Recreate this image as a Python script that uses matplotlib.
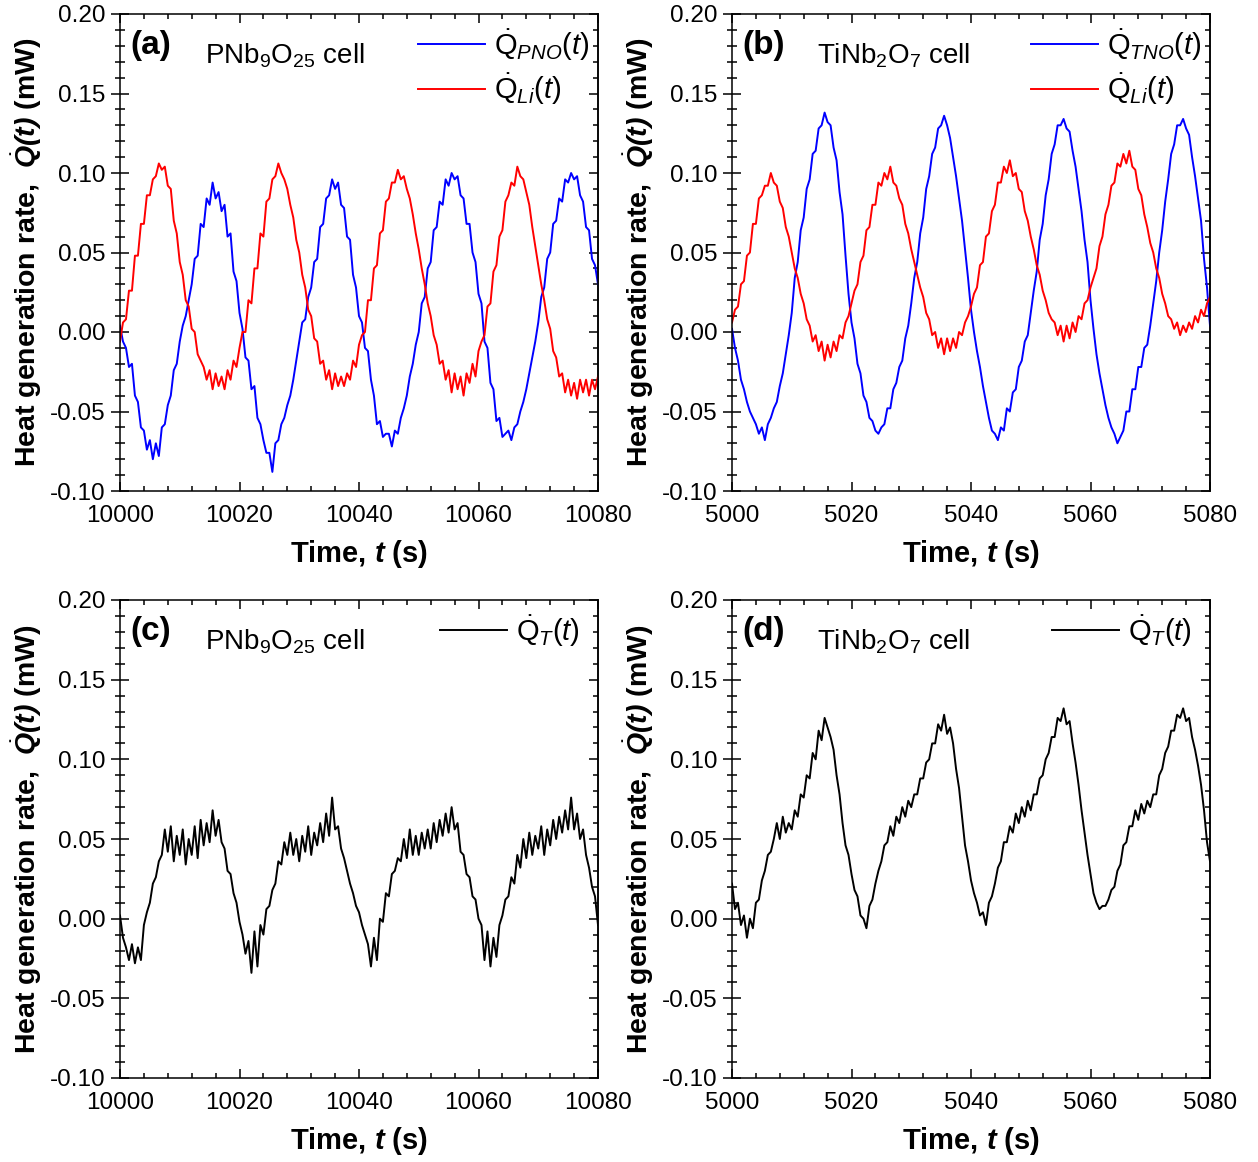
import numpy as np
import matplotlib

matplotlib.use("Agg")
import matplotlib.pyplot as plt
from matplotlib.ticker import MultipleLocator, FormatStrFormatter

t_pno = np.linspace(10000, 10080, 161)
t_tno = np.linspace(5000, 5080, 161)

q_pno = [
    0.004, -0.006, -0.010, -0.022, -0.020, -0.040, -0.044, -0.060, -0.062, -0.074,
    -0.068, -0.080, -0.070, -0.078, -0.060, -0.058, -0.046, -0.040, -0.024, -0.020,
    -0.006, 0.004, 0.010, 0.020, 0.030, 0.046, 0.048, 0.068, 0.066, 0.084,
    0.080, 0.094, 0.084, 0.088, 0.076, 0.080, 0.060, 0.062, 0.038, 0.032,
    0.012, 0.002, -0.016, -0.018, -0.036, -0.034, -0.054, -0.058, -0.068, -0.076,
    -0.076, -0.088, -0.070, -0.068, -0.058, -0.054, -0.046, -0.040, -0.030, -0.018,
    -0.006, 0.006, 0.008, 0.022, 0.028, 0.044, 0.046, 0.066, 0.068, 0.084,
    0.086, 0.096, 0.090, 0.094, 0.080, 0.078, 0.060, 0.058, 0.036, 0.028,
    0.010, 0.006, -0.010, -0.012, -0.030, -0.040, -0.058, -0.056, -0.066, -0.064,
    -0.064, -0.072, -0.062, -0.064, -0.054, -0.048, -0.040, -0.028, -0.020, -0.008,
    0.000, 0.018, 0.022, 0.040, 0.044, 0.064, 0.066, 0.082, 0.080, 0.096,
    0.092, 0.100, 0.096, 0.098, 0.086, 0.084, 0.068, 0.068, 0.050, 0.044,
    0.024, 0.018, -0.006, -0.010, -0.032, -0.036, -0.056, -0.054, -0.066, -0.064,
    -0.062, -0.068, -0.060, -0.058, -0.050, -0.044, -0.036, -0.026, -0.016, -0.006,
    0.006, 0.022, 0.028, 0.046, 0.050, 0.068, 0.070, 0.084, 0.082, 0.096,
    0.094, 0.100, 0.096, 0.098, 0.086, 0.082, 0.066, 0.064, 0.046, 0.042,
    0.030,
]
q_li_pno = [
    -0.006, 0.006, 0.008, 0.026, 0.026, 0.048, 0.048, 0.068, 0.068, 0.086,
    0.086, 0.096, 0.098, 0.106, 0.102, 0.104, 0.092, 0.090, 0.070, 0.062,
    0.044, 0.036, 0.020, 0.016, 0.002, 0.000, -0.014, -0.018, -0.022, -0.030,
    -0.024, -0.036, -0.026, -0.034, -0.028, -0.036, -0.024, -0.030, -0.018, -0.022,
    -0.010, 0.000, 0.000, 0.020, 0.018, 0.040, 0.040, 0.062, 0.060, 0.082,
    0.084, 0.096, 0.098, 0.106, 0.100, 0.096, 0.090, 0.080, 0.072, 0.058,
    0.050, 0.036, 0.028, 0.014, 0.010, -0.004, -0.006, -0.020, -0.018, -0.030,
    -0.024, -0.036, -0.026, -0.034, -0.028, -0.034, -0.026, -0.030, -0.018, -0.022,
    -0.008, -0.002, 0.000, 0.020, 0.020, 0.040, 0.042, 0.062, 0.064, 0.082,
    0.084, 0.094, 0.094, 0.102, 0.096, 0.098, 0.090, 0.084, 0.074, 0.062,
    0.052, 0.040, 0.030, 0.018, 0.010, -0.002, -0.008, -0.020, -0.018, -0.030,
    -0.024, -0.038, -0.026, -0.036, -0.028, -0.040, -0.026, -0.032, -0.020, -0.028,
    -0.012, -0.006, -0.002, 0.016, 0.018, 0.038, 0.042, 0.060, 0.064, 0.082,
    0.086, 0.094, 0.092, 0.104, 0.098, 0.096, 0.088, 0.080, 0.066, 0.054,
    0.042, 0.030, 0.020, 0.008, 0.002, -0.012, -0.016, -0.028, -0.026, -0.038,
    -0.030, -0.040, -0.032, -0.042, -0.030, -0.038, -0.030, -0.040, -0.030, -0.036,
    -0.028,
]
q_tno = [
    0.002, -0.010, -0.018, -0.030, -0.036, -0.044, -0.050, -0.054, -0.058, -0.064,
    -0.060, -0.068, -0.058, -0.054, -0.048, -0.044, -0.034, -0.026, -0.014, -0.002,
    0.012, 0.034, 0.044, 0.064, 0.072, 0.090, 0.096, 0.112, 0.114, 0.128,
    0.130, 0.138, 0.132, 0.130, 0.116, 0.108, 0.088, 0.074, 0.048, 0.024,
    0.006, -0.004, -0.020, -0.026, -0.040, -0.044, -0.054, -0.056, -0.062, -0.064,
    -0.060, -0.058, -0.048, -0.048, -0.036, -0.032, -0.022, -0.018, -0.004, 0.004,
    0.018, 0.034, 0.044, 0.062, 0.072, 0.090, 0.098, 0.112, 0.116, 0.128,
    0.130, 0.136, 0.130, 0.122, 0.110, 0.098, 0.084, 0.070, 0.052, 0.034,
    0.014, 0.000, -0.012, -0.022, -0.034, -0.044, -0.054, -0.062, -0.064, -0.068,
    -0.060, -0.062, -0.048, -0.050, -0.038, -0.036, -0.022, -0.018, -0.006, -0.002,
    0.012, 0.026, 0.038, 0.058, 0.068, 0.086, 0.096, 0.112, 0.118, 0.130,
    0.130, 0.134, 0.128, 0.126, 0.114, 0.104, 0.090, 0.076, 0.058, 0.044,
    0.020, 0.002, -0.014, -0.026, -0.036, -0.046, -0.054, -0.060, -0.064, -0.070,
    -0.066, -0.062, -0.050, -0.050, -0.036, -0.036, -0.022, -0.022, -0.010, -0.008,
    0.004, 0.018, 0.032, 0.050, 0.064, 0.082, 0.096, 0.112, 0.118, 0.130,
    0.130, 0.134, 0.128, 0.124, 0.110, 0.098, 0.084, 0.070, 0.046, 0.028,
    0.004,
]
q_li_tno = [
    0.006, 0.014, 0.016, 0.030, 0.032, 0.048, 0.050, 0.068, 0.068, 0.084,
    0.086, 0.092, 0.092, 0.100, 0.094, 0.092, 0.082, 0.078, 0.066, 0.060,
    0.050, 0.040, 0.034, 0.024, 0.018, 0.008, 0.004, -0.006, -0.002, -0.012,
    -0.006, -0.018, -0.008, -0.016, -0.006, -0.012, -0.002, -0.004, 0.006, 0.010,
    0.018, 0.026, 0.030, 0.044, 0.048, 0.064, 0.066, 0.080, 0.080, 0.094,
    0.092, 0.100, 0.096, 0.104, 0.094, 0.092, 0.084, 0.080, 0.068, 0.062,
    0.052, 0.044, 0.036, 0.028, 0.022, 0.012, 0.008, -0.002, 0.000, -0.010,
    -0.004, -0.014, -0.004, -0.012, -0.004, -0.010, 0.000, -0.002, 0.006, 0.010,
    0.016, 0.024, 0.028, 0.042, 0.044, 0.060, 0.062, 0.076, 0.080, 0.094,
    0.094, 0.104, 0.100, 0.108, 0.098, 0.100, 0.090, 0.088, 0.076, 0.070,
    0.060, 0.052, 0.042, 0.036, 0.026, 0.020, 0.012, 0.008, 0.006, -0.002,
    0.004, -0.006, 0.004, -0.004, 0.006, 0.000, 0.010, 0.008, 0.018, 0.020,
    0.028, 0.034, 0.040, 0.054, 0.060, 0.074, 0.080, 0.092, 0.094, 0.106,
    0.104, 0.112, 0.106, 0.114, 0.104, 0.102, 0.090, 0.086, 0.074, 0.066,
    0.056, 0.050, 0.040, 0.034, 0.024, 0.018, 0.010, 0.008, 0.002, 0.006,
    -0.002, 0.004, 0.000, 0.006, 0.002, 0.010, 0.006, 0.014, 0.010, 0.018,
    0.022,
]
q_total_pno = [
    0.002, -0.012, -0.018, -0.026, -0.016, -0.028, -0.018, -0.026, -0.004, 0.004,
    0.010, 0.022, 0.026, 0.036, 0.040, 0.056, 0.042, 0.058, 0.036, 0.052,
    0.040, 0.056, 0.034, 0.050, 0.040, 0.058, 0.038, 0.062, 0.046, 0.060,
    0.048, 0.068, 0.052, 0.062, 0.048, 0.044, 0.030, 0.028, 0.016, 0.010,
    -0.002, -0.010, -0.022, -0.014, -0.034, -0.008, -0.030, -0.004, -0.010, 0.006,
    0.008, 0.018, 0.022, 0.036, 0.034, 0.048, 0.040, 0.054, 0.040, 0.050,
    0.036, 0.052, 0.042, 0.058, 0.040, 0.054, 0.046, 0.060, 0.048, 0.066,
    0.052, 0.076, 0.056, 0.058, 0.044, 0.038, 0.030, 0.022, 0.016, 0.008,
    0.004, -0.004, -0.010, -0.016, -0.030, -0.012, -0.026, 0.000, -0.002, 0.016,
    0.014, 0.028, 0.030, 0.038, 0.036, 0.050, 0.038, 0.056, 0.040, 0.052,
    0.040, 0.054, 0.044, 0.056, 0.044, 0.060, 0.048, 0.062, 0.052, 0.066,
    0.054, 0.070, 0.056, 0.060, 0.042, 0.040, 0.028, 0.026, 0.014, 0.012,
    0.000, -0.004, -0.026, -0.008, -0.030, -0.012, -0.024, -0.004, 0.002, 0.012,
    0.014, 0.026, 0.022, 0.040, 0.032, 0.050, 0.038, 0.054, 0.040, 0.052,
    0.044, 0.058, 0.040, 0.056, 0.046, 0.062, 0.050, 0.064, 0.054, 0.068,
    0.056, 0.076, 0.056, 0.066, 0.050, 0.056, 0.040, 0.032, 0.020, 0.014,
    -0.004,
]
q_total_tno = [
    0.022, 0.006, 0.010, -0.004, 0.002, -0.012, 0.000, -0.006, 0.010, 0.012,
    0.024, 0.030, 0.040, 0.042, 0.050, 0.060, 0.050, 0.064, 0.054, 0.060,
    0.056, 0.068, 0.064, 0.078, 0.076, 0.090, 0.088, 0.104, 0.100, 0.118,
    0.112, 0.126, 0.120, 0.114, 0.106, 0.090, 0.078, 0.060, 0.046, 0.040,
    0.028, 0.018, 0.014, 0.002, 0.000, -0.006, 0.008, 0.012, 0.022, 0.030,
    0.036, 0.046, 0.048, 0.058, 0.052, 0.064, 0.060, 0.070, 0.064, 0.074,
    0.070, 0.078, 0.078, 0.088, 0.088, 0.098, 0.100, 0.110, 0.110, 0.122,
    0.118, 0.128, 0.116, 0.120, 0.110, 0.094, 0.082, 0.064, 0.046, 0.036,
    0.024, 0.016, 0.010, 0.002, 0.004, -0.004, 0.010, 0.014, 0.022, 0.032,
    0.036, 0.048, 0.048, 0.058, 0.054, 0.066, 0.060, 0.070, 0.064, 0.074,
    0.068, 0.078, 0.078, 0.088, 0.090, 0.100, 0.104, 0.114, 0.114, 0.126,
    0.124, 0.132, 0.122, 0.124, 0.110, 0.098, 0.084, 0.068, 0.054, 0.040,
    0.028, 0.016, 0.010, 0.006, 0.008, 0.008, 0.012, 0.018, 0.020, 0.030,
    0.034, 0.046, 0.048, 0.058, 0.058, 0.068, 0.062, 0.072, 0.066, 0.074,
    0.070, 0.078, 0.078, 0.090, 0.094, 0.104, 0.108, 0.118, 0.118, 0.128,
    0.126, 0.132, 0.124, 0.126, 0.114, 0.106, 0.096, 0.084, 0.068, 0.048,
    0.036,
]

xticks_pno = [10000, 10020, 10040, 10060, 10080]
xticks_tno = [5000, 5020, 5040, 5060, 5080]

plt.rcParams.update(
    {
        "font.family": "Liberation Sans",
        "font.size": 17.5,
        "axes.unicode_minus": False,
        "axes.linewidth": 1.1,
        "mathtext.fontset": "custom",
        "mathtext.rm": "Liberation Sans",
        "mathtext.it": "Liberation Sans:italic",
        "mathtext.bf": "Liberation Sans:bold",
        "mathtext.bfit": "Liberation Sans:italic:bold",
    }
)

fig = plt.figure(figsize=(12.58, 11.62), dpi=100)
W, H = 1258, 1162


def make_ax(x0, y_top, x1, y_bot):
    return fig.add_axes([x0 / W, 1 - y_bot / H, (x1 - x0) / W, (y_bot - y_top) / H])


axA = make_ax(120, 14, 598, 491)
axB = make_ax(732, 14, 1210, 491)
axC = make_ax(120, 600, 598, 1078)
axD = make_ax(732, 600, 1210, 1078)


def style(ax, xticks, tag, cell):
    ax.set_xlim(xticks[0], xticks[-1])
    ax.set_ylim(-0.10, 0.20)
    ax.set_xticks(xticks)
    ax.xaxis.set_minor_locator(MultipleLocator(4))
    ax.yaxis.set_major_locator(MultipleLocator(0.05))
    ax.yaxis.set_minor_locator(MultipleLocator(0.01))
    ax.yaxis.set_major_formatter(FormatStrFormatter("%.2f"))
    ax.tick_params(axis="x", which="both", direction="in", top=True, width=1.1, pad=10)
    ax.tick_params(axis="x", which="major", length=6.5)
    ax.tick_params(axis="x", which="minor", length=3.5)
    ax.tick_params(axis="y", which="both", direction="inout", right=False, width=1.1, pad=4)
    ax.tick_params(axis="y", which="major", length=13)
    ax.tick_params(axis="y", which="minor", length=7)
    sec = ax.secondary_yaxis("right")
    sec.yaxis.set_major_locator(MultipleLocator(0.05))
    sec.yaxis.set_minor_locator(MultipleLocator(0.01))
    sec.tick_params(which="both", direction="in", labelright=False, width=1.1)
    sec.tick_params(which="major", length=6.5)
    sec.tick_params(which="minor", length=3.5)
    ax.set_xlabel(r"Time, $\mathbfit{t}$ (s)", fontsize=21, fontweight="bold")
    ax.xaxis.set_label_coords(0.5, -0.098)
    ax.set_ylabel(r"Heat generation rate,  $\dot{\mathbfit{Q}}\mathbfit{(t)}$ (mW)",
                  fontsize=20.5, fontweight="bold")
    ax.yaxis.set_label_coords(-0.16, 0.5)
    ax.text(0.021, 0.966, tag, transform=ax.transAxes, fontsize=24, fontweight="bold", va="top")
    ax.text(0.178, 0.897, cell, transform=ax.transAxes, fontsize=20, va="baseline")


def add_legend(ax, x_right):
    ax.legend(loc="upper right", bbox_to_anchor=(x_right, 0.985), frameon=False, fontsize=21,
              handlelength=2.3, handletextpad=0.3, labelspacing=0.3,
              borderaxespad=0.0, borderpad=0.2)


lw = 1.4
axA.plot(t_pno, q_pno, color="#0000ff", lw=lw, label=r"$\dot{\mathrm{Q}}_{PNO}(t)$")
axA.plot(t_pno, q_li_pno, color="#ff0000", lw=lw, label=r"$\dot{\mathrm{Q}}_{Li}(t)$")
style(axA, xticks_pno, "(a)", r"PNb$_9$O$_{25}$ cell")
add_legend(axA, 0.995)

axB.plot(t_tno, q_tno, color="#0000ff", lw=lw, label=r"$\dot{\mathrm{Q}}_{TNO}(t)$")
axB.plot(t_tno, q_li_tno, color="#ff0000", lw=lw, label=r"$\dot{\mathrm{Q}}_{Li}(t)$")
style(axB, xticks_tno, "(b)", r"TiNb$_2$O$_7$ cell")
add_legend(axB, 0.995)

axC.plot(t_pno, q_total_pno, color="black", lw=lw, label=r"$\dot{\mathrm{Q}}_{T}(t)$")
style(axC, xticks_pno, "(c)", r"PNb$_9$O$_{25}$ cell")
add_legend(axC, 0.975)

axD.plot(t_tno, q_total_tno, color="black", lw=lw, label=r"$\dot{\mathrm{Q}}_{T}(t)$")
style(axD, xticks_tno, "(d)", r"TiNb$_2$O$_7$ cell")
add_legend(axD, 0.975)

fig.savefig("out.png", dpi=100)
